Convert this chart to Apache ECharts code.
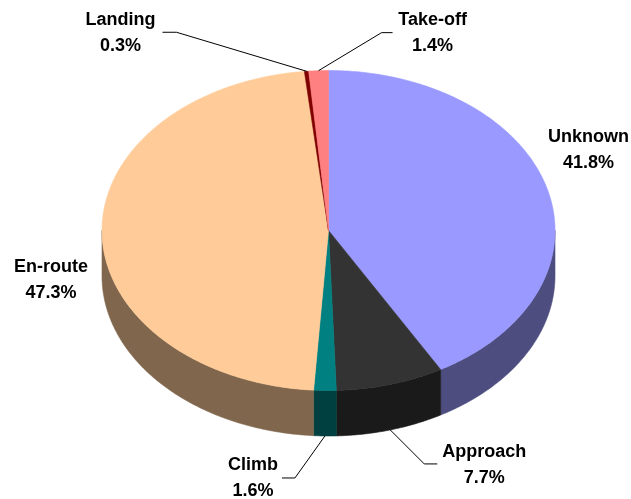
<!DOCTYPE html>
<html>
<head>
<meta charset="utf-8">
<script src="https://cdn.jsdelivr.net/npm/echarts@6/dist/echarts.min.js"></script>
<style>
html,body{margin:0;padding:0;background:#fff;}
#chart{width:631px;height:499px;}
</style>
</head>
<body>
<div id="chart"></div>
<script>
// ---- data ----
const categories = ['Unknown', 'Approach', 'Climb', 'En-route', 'Landing', 'Take-off'];
const values = [41.8, 7.7, 1.6, 47.3, 0.3, 1.4];

// ---- styles / layout (not data) ----
const topColors  = ['#9999FF', '#333333', '#008080', '#FFCC99', '#800000', '#FF8080'];
const sideColors = ['#4D4D80', '#1A1A1A', '#004040', '#80664D', '#400000', '#804040'];
const geo = { cx: 328.5, cy: 230.5, rx: 226.5, ry: 160, depth: 45.5 };
// label offsets relative to the slice anchor point: [elbow, end] of leader, text centre
const labelLayout = [
  { anchor: 'top',  leader: null,                 text: [41, -40] },   // Unknown
  { anchor: 'side', leader: [[34, 34], [47, 34]],  text: [94, 35] },   // Approach
  { anchor: 'side', leader: [[-30, 42], [-43, 42]], text: [-72, 42] }, // Climb
  { anchor: 'top',  leader: null,                 text: [-51, 46] },   // En-route
  { anchor: 'top',  leader: [[-130, -39], [-144, -39]], text: [-186, -38] }, // Landing
  { anchor: 'top',  leader: [[63, -38], [74, -38]], text: [114, -38] }  // Take-off
];
const labelFont = 'bold 18px "Liberation Sans", Arial, sans-serif';

const total = values.reduce((a, b) => a + b, 0);
const starts = [];
(function () { let c = 0; values.forEach(v => { starts.push(c / total * 360); c += v; }); })();

function pt(theta, dy) {
  const r = theta * Math.PI / 180;
  return [geo.cx + geo.rx * Math.sin(r), geo.cy - geo.ry * Math.cos(r) + (dy || 0)];
}
function arcPts(a, b, dy) {
  const out = [];
  const step = 0.5;
  for (let t = a; t < b; t += step) out.push(pt(t, dy));
  out.push(pt(b, dy));
  return out;
}
function sliceAngles(i, v) {
  const a = starts[i];
  return [a, a + v / total * 360];
}

function renderSide(params, api) {
  const i = params.dataIndex;
  const [a0, b0] = sliceAngles(i, api.value(0));
  const a = Math.max(a0, 90), b = Math.min(b0, 270);
  if (a >= b) return null;
  const topRim = arcPts(a, b, 0);
  const botRim = arcPts(a, b, geo.depth).reverse();
  return {
    type: 'polygon',
    shape: { points: topRim.concat(botRim) },
    style: { fill: sideColors[i], stroke: sideColors[i], lineWidth: 0.6, lineJoin: 'round' }
  };
}

function renderTop(params, api) {
  const i = params.dataIndex;
  const [a, b] = sliceAngles(i, api.value(0));
  const pts = [[geo.cx, geo.cy]].concat(arcPts(a, b, 0));
  return {
    type: 'polygon',
    shape: { points: pts },
    style: { fill: topColors[i], stroke: topColors[i], lineWidth: 0.6, lineJoin: 'round' }
  };
}

function renderLabel(params, api) {
  const i = params.dataIndex;
  const v = api.value(0);
  const [a, b] = sliceAngles(i, v);
  const mid = (a + b) / 2;
  const L = labelLayout[i];
  const p = pt(mid, L.anchor === 'side' ? geo.depth : 0);
  const children = [];
  if (L.leader) {
    const pts = [p].concat(L.leader.map(o => [p[0] + o[0], p[1] + o[1]]));
    children.push({
      type: 'polyline',
      shape: { points: pts },
      style: { stroke: '#000', lineWidth: 1, fill: null }
    });
  }
  children.push({
    type: 'text',
    style: {
      text: categories[i] + '\n' + v.toFixed(1) + '%',
      x: p[0] + L.text[0],
      y: p[1] + L.text[1],
      align: 'center',
      verticalAlign: 'middle',
      font: labelFont,
      lineHeight: 26,
      fill: '#000'
    }
  });
  return { type: 'group', children: children };
}

const chart = echarts.init(document.getElementById('chart'), null, { renderer: 'canvas' });
chart.setOption({
  animation: false,
  backgroundColor: '#fff',
  series: [
    { type: 'custom', coordinateSystem: 'none', data: values, renderItem: renderSide, z: 1, silent: true },
    { type: 'custom', coordinateSystem: 'none', data: values, renderItem: renderTop, z: 2, silent: true },
    { type: 'custom', coordinateSystem: 'none', data: values, renderItem: renderLabel, z: 3, silent: true }
  ]
});
</script>
</body>
</html>
